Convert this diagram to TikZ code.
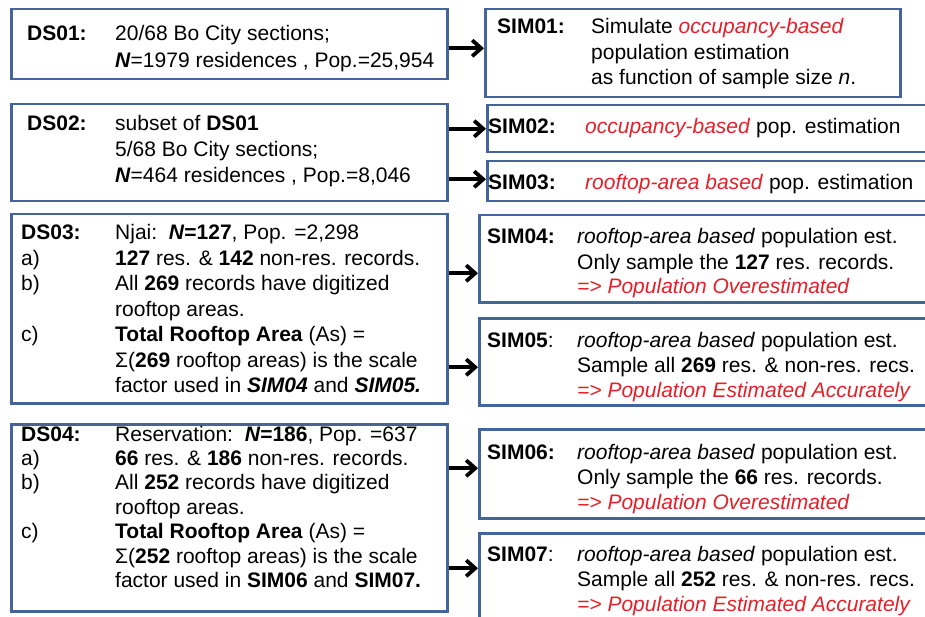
\documentclass[tikz,border=0pt]{standalone}
\usepackage{fontspec}
\setmainfont{Liberation Sans}
\usetikzlibrary{arrows.meta}

\definecolor{frameblue}{RGB}{70,100,156}
\definecolor{hlred}{RGB}{228,32,40}
\newcommand{\hl}[1]{\textcolor{hlred}{\textit{#1}}}
\newcommand{\bN}{\textbf{\textit{N}}}

\begin{document}
\begin{tikzpicture}[x=1pt,y=-1pt,
  panel/.style={draw=frameblue, line width=2.5pt, rectangle, inner sep=0pt, anchor=north west},
  txt/.style={anchor=base west, inner sep=0pt, font=\fontsize{21}{#1}\selectfont},
  txt/.default=25.5,
  link/.style={line width=3.8pt, -{Straight Barb[length=9pt,width=16pt]}}]

\useasboundingbox (0,0) rectangle (925,617);
\clip (0,0) rectangle (925,617);

% data set panels
\node[panel, minimum width=436pt, minimum height=70pt]  (ds01) at (10,8)   {};
\node[panel, minimum width=436pt, minimum height=97pt]  (ds02) at (10,103) {};
\node[panel, minimum width=436pt, minimum height=189pt] (ds03) at (10,213) {};
\node[panel, minimum width=436pt, minimum height=187pt] (ds04) at (10,423) {};

% simulation panels
\node[panel, minimum width=415pt, minimum height=88pt]  (sim01) at (484,8)   {};
\node[panel, minimum width=449pt, minimum height=47pt]  (sim02) at (486,104) {};
\node[panel, minimum width=449pt, minimum height=40pt]  (sim03) at (486,160) {};
\node[panel, minimum width=457pt, minimum height=87pt]  (sim04) at (478,214) {};
\node[panel, minimum width=457pt, minimum height=87pt]  (sim05) at (478,317) {};
\node[panel, minimum width=457pt, minimum height=89pt]  (sim06) at (478,428) {};
\node[panel, minimum width=457pt, minimum height=98pt]  (sim07) at (478,532) {};

% data set texts
\node[txt=26.5] (ds01t) at (27,41) {\begin{tabular}[t]{@{}p{88pt}@{}l@{}}
\textbf{DS01:} & 20/68 Bo City sections;\\
 & \bN=1979 residences , Pop.=25,954
\end{tabular}};

\node[txt=25.8] (ds02t) at (27,131) {\begin{tabular}[t]{@{}p{88pt}@{}l@{}}
\textbf{DS02:} & subset of \textbf{DS01}\\
 & 5/68 Bo City sections;\\
 & \bN=464 residences , Pop.=8,046
\end{tabular}};

\node[txt=25.5] (ds03t) at (21,240) {\begin{tabular}[t]{@{}p{94pt}@{}l@{}}
\textbf{DS03:} & Njai:\ \ \textbf{\textit{N}=127}, Pop. =2,298\\
a) & \textbf{127} res. \& \textbf{142} non-res. records.\\
b) & All \textbf{269} records have digitized\\
 & rooftop areas.\\
c) & \textbf{Total Rooftop Area} (As) =\\
 & Σ(\textbf{269} rooftop areas) is the scale\\
 & factor used in \textbf{\textit{SIM04}} and \textbf{\textit{SIM05.}}
\end{tabular}};

\node[txt=24.4] (ds04t) at (21,441) {\begin{tabular}[t]{@{}p{94pt}@{}l@{}}
\textbf{DS04:} & Reservation:\ \ \textbf{\textit{N}=186}, Pop. =637\\
a) & \textbf{66} res. \& \textbf{186} non-res. records.\\
b) & All \textbf{252} records have digitized\\
 & rooftop areas.\\
c) & \textbf{Total Rooftop Area} (As) =\\
 & Σ(\textbf{252} rooftop areas) is the scale\\
 & factor used in \textbf{SIM06} and \textbf{SIM07.}
\end{tabular}};

% simulation texts
\node[txt=25.5] (sim01t) at (497,34) {\begin{tabular}[t]{@{}p{94pt}@{}l@{}}
\textbf{SIM01:} & Simulate \hl{occupancy-based}\\
 & population estimation\\
 & as function of sample size \textit{n}.
\end{tabular}};

\node[txt] (sim02t) at (488,134) {\begin{tabular}[t]{@{}p{97pt}@{}l@{}}
\textbf{SIM02:} & \hl{occupancy-based} pop. estimation
\end{tabular}};

\node[txt] (sim03t) at (488,190) {\begin{tabular}[t]{@{}p{97pt}@{}l@{}}
\textbf{SIM03:} & \hl{rooftop-area based} pop. estimation
\end{tabular}};

\node[txt=25] (sim04t) at (487,244) {\begin{tabular}[t]{@{}p{90pt}@{}l@{}}
\textbf{SIM04:} & \textit{rooftop-area based} population est.\\
 & Only sample the \textbf{127} res. records.\\
 & \hl{=> Population Overestimated}
\end{tabular}};

\node[txt=25] (sim05t) at (487,347) {\begin{tabular}[t]{@{}p{90pt}@{}l@{}}
\textbf{SIM05}: & \textit{rooftop-area based} population est.\\
 & Sample all \textbf{269} res. \& non-res. recs.\\
 & \hl{=> Population Estimated Accurately}
\end{tabular}};

\node[txt=25] (sim06t) at (487,459) {\begin{tabular}[t]{@{}p{90pt}@{}l@{}}
\textbf{SIM06:} & \textit{rooftop-area based} population est.\\
 & Only sample the \textbf{66} res. records.\\
 & \hl{=> Population Overestimated}
\end{tabular}};

\node[txt=25] (sim07t) at (487,561) {\begin{tabular}[t]{@{}p{90pt}@{}l@{}}
\textbf{SIM07}: & \textit{rooftop-area based} population est.\\
 & Sample all \textbf{252} res. \& non-res. recs.\\
 & \hl{=> Population Estimated Accurately}
\end{tabular}};

% connectors from data sets to simulations
\draw[link] ([yshift=5pt]sim01.west -| ds01.east) -- ([yshift=5pt]sim01.west);
\draw[link] (sim02.west -| ds02.east) -- (sim02.west);
\draw[link] ([yshift=2pt]sim03.west -| ds02.east) -- ([yshift=2pt]sim03.west);
\draw[link] ([yshift=-14.5pt]sim04.west -| ds03.east) -- ([yshift=-14.5pt]sim04.west);
\draw[link] ([yshift=-5.5pt]sim05.west -| ds03.east) -- ([yshift=-5.5pt]sim05.west);
\draw[link] ([yshift=5.5pt]sim06.west -| ds04.east) -- ([yshift=5.5pt]sim06.west);
\draw[link] ([yshift=14pt]sim07.west -| ds04.east) -- ([yshift=14pt]sim07.west);
\end{tikzpicture}
\end{document}
